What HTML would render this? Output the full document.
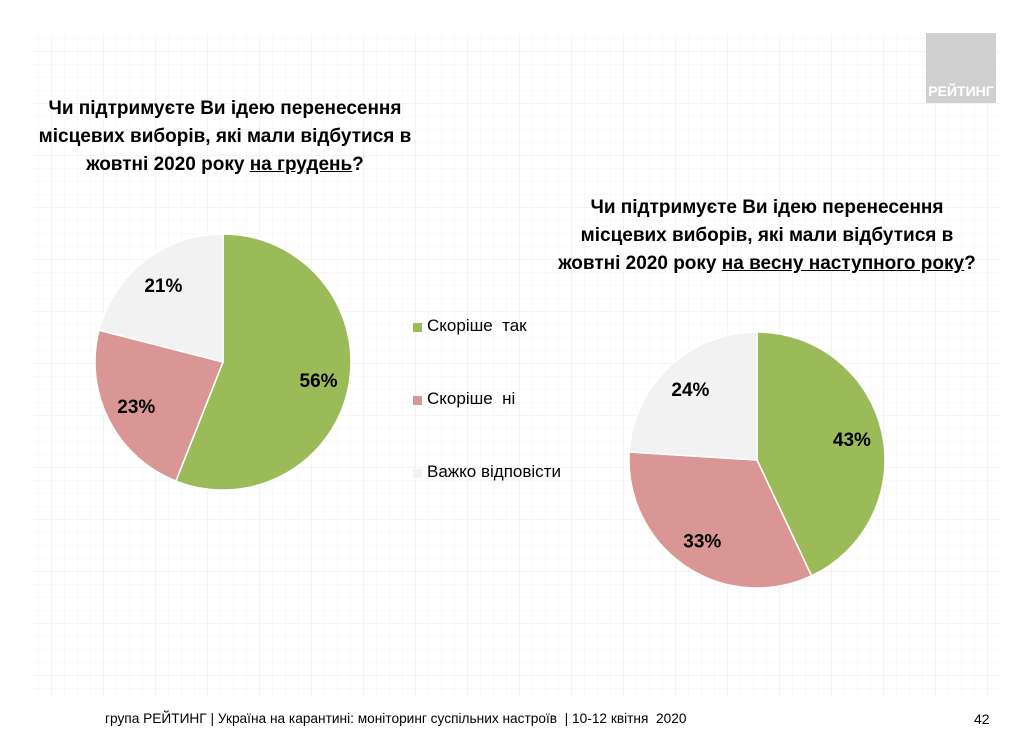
<!DOCTYPE html>
<html><head><meta charset="utf-8"><style>
body{margin:0;width:1024px;height:732px;background:#fff;overflow:hidden;font-family:"Liberation Sans",sans-serif;}
.t{position:absolute;font-weight:bold;font-size:19px;line-height:28px;text-align:center;color:#000;}
.lg{position:absolute;font-size:17px;color:#000;}
.sq{position:absolute;width:9px;height:9px;}
</style></head><body>
<svg width="1024" height="732" style="position:absolute;left:0;top:0">
<defs><pattern id="g" width="13" height="13" patternUnits="userSpaceOnUse"><path d="M13 0V13H0" fill="none" stroke="#f3f3f3" stroke-width="1"/></pattern>
<pattern id="G" width="52" height="52" patternUnits="userSpaceOnUse"><rect width="52" height="52" fill="url(#g)"/><path d="M52 0V52H0" fill="none" stroke="#e8e8e8" stroke-width="1"/></pattern></defs>
<rect x="30" y="34" width="970" height="662" fill="url(#G)"/>
<g id="pies"></g>
</svg>
<div style="position:absolute;left:926px;top:33px;width:70px;height:70px;background:#d0d0d0;"></div>
<div style="position:absolute;left:926px;top:83px;width:70px;text-align:center;color:#fff;font-weight:bold;font-size:14px;">РЕЙТИНГ</div>
<div class="t" style="left:20px;top:95px;width:410px;">Чи підтримуєте Ви ідею перенесення<br>місцевих виборів, які мали відбутися в<br>жовтні 2020 року <u>на грудень</u>?</div>
<div class="t" style="left:532px;top:194px;width:470px;">Чи підтримуєте Ви ідею перенесення<br>місцевих виборів, які мали відбутися в<br>жовтні 2020 року <u>на весну наступного року</u>?</div>
<div class="sq" style="left:413px;top:323px;background:#9bbb59"></div>
<div class="lg" style="left:427px;top:316px;">Скоріше&nbsp; так</div>
<div class="sq" style="left:413px;top:396px;background:#d99694"></div>
<div class="lg" style="left:427px;top:389px;">Скоріше&nbsp; ні</div>
<div class="sq" style="left:413px;top:469px;background:#f2f2f2"></div>
<div class="lg" style="left:427px;top:462px;">Важко відповісти</div>
<div style="position:absolute;left:105px;top:711px;font-size:13.7px;">група РЕЙТИНГ | Україна на карантині: моніторинг суспільних настроїв&nbsp; | 10-12 квітня&nbsp; 2020</div>
<div style="position:absolute;left:974px;top:711px;font-size:14px;">42</div>
<script>
const categories=["Скоріше так","Скоріше ні","Важко відповісти"];
const pie1Values=[56,23,21];
const pie2Values=[43,33,24];
const colors=["#9bbb59","#d99694","#f2f2f2"];
const NS="http://www.w3.org/2000/svg";
const g=document.getElementById('pies');
function drawPie(vals,cx,cy,r,name){
  const tot=vals.reduce((a,b)=>a+b,0);let a0=0;
  vals.forEach((v,i)=>{
    const a1=a0+v/tot*2*Math.PI;
    const p=(a)=>[cx+r*Math.sin(a),cy-r*Math.cos(a)];
    const [x0,y0]=p(a0),[x1,y1]=p(a1);
    const path=document.createElementNS(NS,'path');
    path.setAttribute('d',`M${cx} ${cy}L${x0} ${y0}A${r} ${r} 0 ${a1-a0>Math.PI?1:0} 1 ${x1} ${y1}Z`);
    path.setAttribute('fill',colors[i]);path.setAttribute('stroke','#fff');path.setAttribute('stroke-width','1.5');
    
    
    g.appendChild(path);
    const am=(a0+a1)/2,lr=r*0.76;
    const t=document.createElementNS(NS,'text');
    t.setAttribute('x',cx+lr*Math.sin(am));t.setAttribute('y',cy-lr*Math.cos(am)+7);
    t.setAttribute('text-anchor','middle');t.setAttribute('font-size','19');t.setAttribute('font-weight','bold');
    t.setAttribute('font-family','Liberation Sans, sans-serif');
    t.textContent=v+'%';
    
    
    g.appendChild(t);
    a0=a1;
  });
}
drawPie(pie1Values,223,362,128,'pie-december');
drawPie(pie2Values,757,460,128,'pie-spring');
</script>
</body></html>
